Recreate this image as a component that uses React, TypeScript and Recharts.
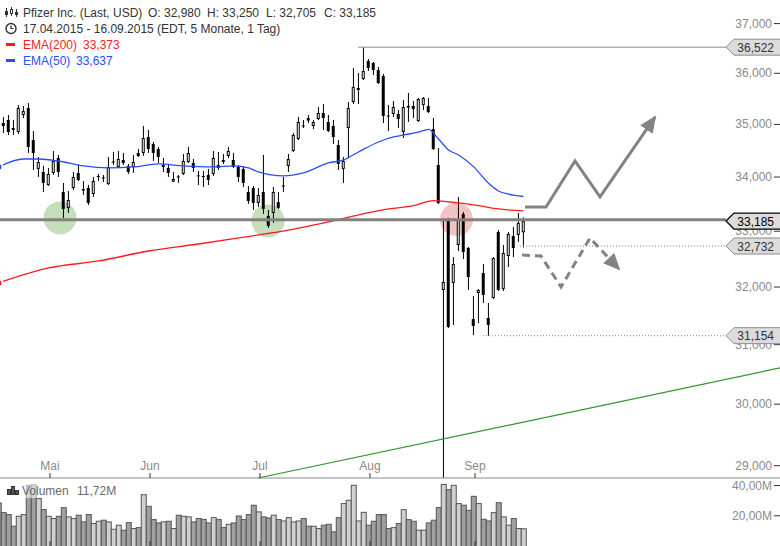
import React from 'react';
import { ComposedChart, Bar, Line, XAxis, YAxis, ReferenceLine, ReferenceDot } from 'recharts';

const FONT = '"Liberation Sans", Arial, sans-serif';

// Pfizer daily candles, index 0 = 17.04.2015, last = 16.09.2015 (USD)
const opens = [
  35.008, 35.027, 35.085, 34.931, 34.855, 35.182, 35.318, 34.701, 34.152, 34.095,
  33.851, 34.077, 34.359, 33.721, 33.426, 33.795, 34.077, 33.777, 33.795, 33.684,
  34.001, 33.992, 33.870, 34.274, 34.189, 34.321, 34.208, 34.189, 34.454, 34.454,
  34.759, 34.625, 34.530, 34.189, 34.171, 33.916, 34.011, 34.058, 34.283, 34.265,
  34.030, 34.020, 34.039, 34.058, 34.227, 34.321, 34.397, 34.321, 34.189, 34.152,
  33.721, 33.795, 33.518, 33.721, 33.279, 33.334, 33.536, 33.823, 34.208, 34.492,
  34.720, 34.979, 35.124, 34.970, 35.105, 35.221, 35.047, 34.970, 34.606, 34.152,
  34.931, 35.435, 35.670, 35.887, 36.245, 36.205, 36.065, 35.946, 35.172, 35.202,
  35.202, 34.855, 35.357, 35.357, 35.066, 35.376, 35.357, 34.912, 34.227, 31.948,
  33.205, 32.072, 32.750, 33.315, 32.696, 31.441, 31.895, 32.249, 31.459, 31.807,
  32.986, 31.966, 32.552, 32.914, 32.932, 32.980,
];
const highs = [
  35.124, 35.143, 35.182, 35.085, 35.376, 35.357, 35.415, 34.874, 34.378, 34.208,
  34.171, 34.492, 34.416, 33.889, 33.740, 34.095, 34.227, 33.926, 33.851, 34.001,
  34.058, 34.039, 34.378, 34.473, 34.492, 34.454, 34.246, 34.416, 34.530, 34.970,
  34.893, 34.663, 34.568, 34.359, 34.227, 34.095, 34.039, 34.435, 34.568, 34.340,
  34.114, 34.114, 34.152, 34.492, 34.473, 34.435, 34.568, 34.454, 34.227, 34.208,
  33.832, 33.832, 33.795, 34.416, 33.389, 33.814, 33.721, 34.001, 34.435, 34.835,
  35.143, 35.085, 35.182, 35.085, 35.337, 35.396, 35.182, 35.085, 34.701, 34.378,
  35.435, 36.105, 36.006, 36.522, 36.285, 36.225, 36.125, 35.986, 35.376, 35.454,
  35.279, 35.474, 35.611, 35.454, 35.513, 35.533, 35.513, 35.124, 34.549, 33.205,
  33.242, 32.534, 33.629, 33.352, 32.714, 31.842, 31.966, 32.409, 31.720, 32.534,
  33.022, 32.750, 32.986, 33.077, 33.334, 33.250,
];
const lows = [
  34.759, 34.835, 34.797, 34.797, 34.816, 35.124, 34.454, 34.133, 34.001, 33.721,
  33.832, 34.039, 34.001, 33.242, 33.334, 33.758, 33.926, 33.666, 33.481, 33.629,
  33.926, 33.907, 33.851, 34.227, 34.171, 34.227, 34.058, 34.077, 34.378, 34.397,
  34.454, 34.302, 34.265, 34.095, 34.001, 33.907, 33.889, 34.039, 34.265, 34.095,
  33.851, 33.814, 33.851, 34.020, 34.133, 34.246, 34.359, 34.171, 33.907, 33.814,
  33.499, 33.389, 33.444, 33.315, 33.059, 33.151, 33.407, 33.721, 34.095, 34.473,
  34.701, 34.931, 35.027, 34.912, 35.085, 34.893, 34.855, 34.625, 34.133, 33.889,
  34.378, 35.396, 35.396, 35.867, 36.045, 35.966, 35.789, 35.027, 34.874, 35.143,
  34.931, 34.739, 35.047, 35.124, 35.047, 35.279, 35.221, 34.511, 33.499, 27.510,
  31.286, 31.338, 32.642, 32.499, 31.948, 31.165, 31.372, 31.720, 31.154, 31.790,
  31.930, 31.930, 32.355, 32.534, 32.805, 32.705,
];
const closes = [
  34.816, 34.970, 34.855, 34.893, 35.318, 35.260, 34.568, 34.454, 34.283, 33.889,
  34.058, 34.302, 34.095, 33.407, 33.573, 34.001, 33.945, 33.749, 33.518, 33.926,
  34.020, 33.973, 34.189, 34.293, 34.340, 34.265, 34.095, 34.283, 34.397, 34.739,
  34.530, 34.454, 34.378, 34.227, 34.077, 33.964, 33.992, 34.302, 34.454, 34.171,
  34.011, 34.000, 33.945, 34.359, 34.171, 34.283, 34.492, 34.189, 34.001, 33.889,
  33.555, 33.518, 33.666, 33.407, 33.096, 33.721, 33.426, 33.842, 34.340, 34.797,
  35.047, 34.960, 35.075, 35.047, 35.221, 35.124, 34.874, 34.759, 34.246, 34.302,
  35.318, 35.730, 35.710, 36.045, 36.105, 36.065, 35.808, 35.163, 35.153, 35.337,
  35.105, 35.337, 35.328, 35.298, 35.494, 35.513, 35.240, 34.530, 33.518, 32.089,
  31.304, 32.409, 33.223, 32.624, 32.178, 31.321, 31.948, 31.860, 31.338, 32.516,
  31.948, 32.606, 32.950, 32.696, 33.151, 33.185,
];
// volume in millions
const volumes = [
  28.8, 22.4, 21.1, 13.4, 20.0, 21.1, 40.5, 40.9, 31.7, 24.4,
  20.0, 18.5, 20.0, 25.7, 19.6, 18.5, 20.7, 16.3, 21.1, 15.2,
  16.7, 17.4, 16.3, 11.4, 14.1, 10.8, 15.8, 11.9, 12.5, 34.3,
  26.6, 17.8, 15.6, 16.3, 16.7, 11.9, 20.7, 20.0, 19.6, 16.3,
  18.5, 18.0, 15.6, 19.1, 17.8, 12.5, 14.7, 15.6, 20.2, 17.8,
  21.1, 27.3, 22.9, 19.6, 18.9, 20.7, 17.8, 16.9, 19.1, 16.3,
  16.9, 18.5, 13.4, 13.4, 11.9, 14.1, 14.7, 9.7, 19.1, 28.4,
  30.6, 40.5, 16.9, 22.6, 14.1, 16.7, 21.1, 21.1, 11.9, 12.5,
  15.2, 24.4, 17.8, 16.7, 10.8, 10.8, 15.6, 17.4, 25.7, 41.1,
  37.6, 40.5, 28.4, 27.3, 24.0, 33.2, 28.4, 18.0, 16.9, 22.4,
  29.0, 19.6, 14.1, 18.5, 11.9, 11.72,
];

// moving averages at these candle indices
const ema50Idx = [0, 5, 8, 12, 17, 22, 27, 32, 37, 43, 47, 50, 52, 57, 61, 66, 69, 72, 76, 79, 81, 84, 86, 88, 90, 92, 95, 98, 100, 102, 105];
const ema50Vals = [34.189, 34.34, 34.34, 34.302, 34.208, 34.171, 34.189, 34.246, 34.208, 34.189, 34.208, 34.171, 34.095, 34.02, 34.077, 34.265, 34.321, 34.473, 34.663, 34.759, 34.797, 34.85, 34.905, 34.72, 34.511, 34.416, 34.196, 33.883, 33.74, 33.68, 33.637];
const ema200Idx = [0, 10, 20, 30, 40, 52, 56, 66, 72, 78, 83, 87, 92, 96, 100, 105];
const ema200Vals = [32.072, 32.338, 32.463, 32.642, 32.768, 32.932, 32.986, 33.169, 33.297, 33.407, 33.469, 33.561, 33.518, 33.469, 33.407, 33.373];

const priceTicks = [29, 30, 31, 32, 33, 34, 35, 36, 37];
const volumeTicks = [20, 40];
const monthStarts = [10, 30, 52, 74, 95];
const monthLabels = ['Mai', 'Jun', 'Jul', 'Aug', 'Sep'];

// drawn annotations (index, price)
const supportLevel = 33.21;
const highLine = { from: 71.9, value: 36.522 };
const dottedLevels = [{ from: 104.3, value: 32.732 }, { from: 96.9, value: 31.154 }];
const tagAt = 145.5;
const priceTags = [36.522, 33.185, 32.732, 31.154];
const greenMarks = [{ i: 12.3, p: 33.242 }, { i: 53.9, p: 33.187 }];
const redMarks = [{ i: 91.6, p: 33.214 }];
const trendLine = [{ i: 51.9, p: 28.804 }, { i: 156.3, p: 30.605 }];
const upPath = [{ i: 105.3, p: 33.444 }, { i: 109.5, p: 33.444 }, { i: 115.3, p: 34.302 }, { i: 120.3, p: 33.629 }, { i: 131.3, p: 35.143 }];
const downPath = [{ i: 104.7, p: 32.57 }, { i: 108.5, p: 32.552 }, { i: 112.5, p: 32.001 }, { i: 118.3, p: 32.877 }, { i: 124.1, p: 32.32 }];

const X_DOMAIN: [number, number] = [0.3, 156.3];
const Y_DOMAIN: [number, number] = [28.804, 37.484];
const monthTicks = monthStarts.map((k) => k + 0.3);

const rows = opens.map((o, i) => {
  const c = closes[i];
  const a = ema50Idx.indexOf(i);
  const b = ema200Idx.indexOf(i);
  return {
    i,
    o,
    h: highs[i],
    l: lows[i],
    c,
    wick: [lows[i], highs[i]],
    body: [Math.min(o, c), Math.max(o, c)],
    vol: volumes[i],
    ema50: a >= 0 ? ema50Vals[a] : null,
    ema200: b >= 0 ? ema200Vals[b] : null,
  };
});
const last = rows[rows.length - 1];

const fmt3 = (v: number) => v.toFixed(3).replace('.', ',');
const fmt2 = (v: number) => v.toFixed(2).replace('.', ',');

const WickShape = (props: any) => {
  const { x, y, width, height } = props;
  if (![x, y, width, height].every(Number.isFinite)) return <g />;
  const cx = x + width / 2;
  return <line x1={cx} x2={cx} y1={y} y2={y + height} stroke="#000" strokeWidth={1} />;
};

const BodyShape = (props: any) => {
  const { x, y, width, height, payload } = props;
  if (![x, y, width, height].every(Number.isFinite)) return <g />;
  const cx = x + width / 2;
  const up = payload.c >= payload.o;
  if (!up || height < 2.5) {
    return <rect x={cx - 1.5} y={y} width={3} height={Math.max(height, 1)} fill="#000" />;
  }
  return <rect x={cx - 1} y={y + 0.5} width={2} height={height - 1} fill="#fff" stroke="#000" strokeWidth={1} />;
};

const VolShape = (props: any) => {
  const { x, y, width, height, payload } = props;
  if (![x, y, width, height].every(Number.isFinite)) return <g />;
  const cx = x + width / 2;
  const up = payload.c >= payload.o;
  return (
    <rect x={cx - 2} y={y + 0.5} width={5} height={height} fill={up ? '#d0d0d0' : '#a0a0a0'} stroke="#555" strokeWidth={1} />
  );
};

const PriceTick = (props: any) => {
  const { y, payload } = props;
  return (
    <g>
      <text x={772} y={y + 4} textAnchor="end" fontSize={12} fill="#8a8a8a" fontFamily={FONT}>
        {fmt3(payload.value)}
      </text>
      <line x1={774} x2={780} y1={y} y2={y} stroke="#333" />
    </g>
  );
};

const MonthTick = (props: any) => {
  const { x, payload } = props;
  const label = monthLabels[monthTicks.indexOf(payload.value)];
  return (
    <g>
      <text x={x} y={470} textAnchor="middle" fontSize={12} fill="#8a8a8a" fontFamily={FONT}>
        {label}
      </text>
      <line x1={x} x2={x} y1={473} y2={478} stroke="#333" />
    </g>
  );
};

const VolTick = (props: any) => {
  const { y, payload } = props;
  return (
    <g>
      <text x={772} y={y + 4} textAnchor="end" fontSize={12} fill="#8a8a8a" fontFamily={FONT}>
        {fmt2(payload.value)}M
      </text>
      <line x1={774} x2={780} y1={y} y2={y} stroke="#333" />
    </g>
  );
};

const VolMonthTick = (props: any) => {
  const { x } = props;
  return <line x1={x} x2={x} y1={63} y2={68} stroke="#333" />;
};

const PriceTag = (props: any) => {
  const { cx, cy, value, current } = props;
  if (!Number.isFinite(cx) || !Number.isFinite(cy)) return <g />;
  const h = 8;
  const pts = `${cx},${cy} ${cx + 8},${cy - h} ${cx + 58},${cy - h} ${cx + 58},${cy + h} ${cx + 8},${cy + h}`;
  return (
    <g>
      <polygon points={pts} fill="#dcdcdc" stroke={current ? '#000' : '#8c8c8c'} strokeWidth={current ? 1.3 : 1} />
      <text x={cx + 48} y={cy + 4.5} textAnchor="end" fontSize={12} fill={current ? '#000' : '#333'} fontFamily={FONT}>
        {fmt3(value)}
      </text>
    </g>
  );
};

// arrow head drawn at the end of a reference segment (x2, y2 is the tip)
const ArrowHead = (props: any) => {
  const { x1, y1, x2, y2, fill } = props;
  if (![x1, y1, x2, y2].every(Number.isFinite)) return <g />;
  const dx = x2 - x1;
  const dy = y2 - y1;
  const len = Math.hypot(dx, dy) || 1;
  const ux = dx / len;
  const uy = dy / len;
  const bx = x2 - ux * 15;
  const by = y2 - uy * 15;
  const pts = `${x2 + ux * 2},${y2 + uy * 2} ${bx - uy * 7.5},${by + ux * 7.5} ${bx + uy * 7.5},${by - ux * 7.5}`;
  return <polygon points={pts} fill={fill} stroke="none" />;
};

const ARROW = '#878282';

function PriceChart() {
  const upA = upPath[upPath.length - 2];
  const upB = upPath[upPath.length - 1];
  const dnA = downPath[downPath.length - 2];
  const dnB = downPath[downPath.length - 1];
  return (
    <ComposedChart width={780} height={480} data={rows} margin={{ top: 0, right: 0, bottom: 2, left: 0 }}>
      <XAxis
        xAxisId="w"
        dataKey="i"
        type="number"
        domain={X_DOMAIN}
        allowDataOverflow
        ticks={monthTicks}
        interval={0}
        mirror
        tick={MonthTick}
        tickLine={false}
        axisLine={{ stroke: '#8a8a8a' }}
      />
      <XAxis xAxisId="b" dataKey="i" type="number" domain={X_DOMAIN} allowDataOverflow hide />
      <YAxis
        yAxisId="p"
        orientation="right"
        scale="log"
        domain={Y_DOMAIN}
        allowDataOverflow
        ticks={priceTicks}
        interval={0}
        mirror
        tick={PriceTick}
        tickLine={false}
        axisLine={false}
      />
      {greenMarks.map((m) => (
        <ReferenceDot key={`g${m.i}`} xAxisId="w" yAxisId="p" x={m.i} y={m.p} r={16.5} fill="rgba(110,175,87,0.4)" stroke="none" zIndex={250} />
      ))}
      {redMarks.map((m) => (
        <ReferenceDot key={`r${m.i}`} xAxisId="w" yAxisId="p" x={m.i} y={m.p} r={16.5} fill="rgba(222,105,105,0.4)" stroke="none" zIndex={250} />
      ))}
      <ReferenceLine
        xAxisId="w"
        yAxisId="p"
        segment={[{ x: trendLine[0].i, y: trendLine[0].p }, { x: trendLine[1].i, y: trendLine[1].p }]}
        stroke="#2e962e"
        strokeWidth={1.2}
        ifOverflow="visible"
      />
      <Line xAxisId="w" yAxisId="p" dataKey="ema200" stroke="#ff1a1a" strokeWidth={1.3} dot={false} connectNulls type="monotone" isAnimationActive={false} />
      <Line xAxisId="w" yAxisId="p" dataKey="ema50" stroke="#2a4dff" strokeWidth={1.3} dot={false} connectNulls type="monotone" isAnimationActive={false} />
      <Bar xAxisId="w" yAxisId="p" dataKey="wick" barSize={5} shape={WickShape} isAnimationActive={false} />
      <Bar xAxisId="b" yAxisId="p" dataKey="body" barSize={5} shape={BodyShape} isAnimationActive={false} />
      <ReferenceLine
        xAxisId="w"
        yAxisId="p"
        segment={[{ x: X_DOMAIN[0], y: supportLevel }, { x: tagAt, y: supportLevel }]}
        stroke="#858080"
        strokeWidth={3}
        ifOverflow="visible"
      />
      <ReferenceLine
        xAxisId="w"
        yAxisId="p"
        segment={[{ x: highLine.from, y: highLine.value }, { x: tagAt, y: highLine.value }]}
        stroke="#8a8a8a"
        strokeWidth={1}
        ifOverflow="visible"
      />
      {dottedLevels.map((d) => (
        <ReferenceLine
          key={`d${d.value}`}
          xAxisId="w"
          yAxisId="p"
          segment={[{ x: d.from, y: d.value }, { x: tagAt, y: d.value }]}
          stroke="#8a8a8a"
          strokeWidth={1}
          strokeDasharray="1 2"
          ifOverflow="visible"
        />
      ))}
      <Line
        xAxisId="w"
        yAxisId="p"
        data={upPath}
        dataKey="p"
        stroke={ARROW}
        strokeWidth={3}
        type="linear"
        dot={false}
        activeDot={false}
        isAnimationActive={false}
      />
      <Line
        xAxisId="w"
        yAxisId="p"
        data={downPath}
        dataKey="p"
        stroke={ARROW}
        strokeWidth={3}
        strokeDasharray="8 5"
        type="linear"
        dot={false}
        activeDot={false}
        isAnimationActive={false}
      />
      <ReferenceLine
        xAxisId="w"
        yAxisId="p"
        segment={[{ x: upA.i, y: upA.p }, { x: upB.i, y: upB.p }]}
        ifOverflow="visible"
        shape={(p: any) => <ArrowHead {...p} fill={ARROW} />}
      />
      <ReferenceLine
        xAxisId="w"
        yAxisId="p"
        segment={[{ x: dnA.i, y: dnA.p }, { x: dnB.i, y: dnB.p }]}
        ifOverflow="visible"
        shape={(p: any) => <ArrowHead {...p} fill={ARROW} />}
      />
      {priceTags.map((v) => (
        <ReferenceDot
          key={`t${v}`}
          xAxisId="w"
          yAxisId="p"
          x={tagAt}
          y={v}
          r={1}
          zIndex={2500}
          ifOverflow="visible"
          shape={(p: any) => <PriceTag {...p} value={v} current={v === last.c} />}
        />
      ))}
    </ComposedChart>
  );
}

function VolumeChart() {
  return (
    <ComposedChart width={780} height={68} data={rows} margin={{ top: 0, right: 0, bottom: 0, left: 0 }}>
      <XAxis
        dataKey="i"
        type="number"
        domain={X_DOMAIN}
        allowDataOverflow
        ticks={monthTicks}
        interval={0}
        mirror
        tick={VolMonthTick}
        tickLine={false}
        axisLine={false}
      />
      <YAxis
        orientation="right"
        domain={[0, 45]}
        allowDataOverflow
        ticks={volumeTicks}
        interval={0}
        mirror
        tick={VolTick}
        tickLine={false}
        axisLine={false}
      />
      <Bar dataKey="vol" barSize={5} shape={VolShape} isAnimationActive={false} />
    </ComposedChart>
  );
}

function Overlay() {
  const t = { fontSize: 12, fontFamily: FONT } as const;
  return (
    <svg width={780} height={546} style={{ position: 'absolute', left: 0, top: 0, pointerEvents: 'none' }}>
      {/* candle icon */}
      <g stroke="#333" strokeWidth={1}>
        <line x1={6.5} x2={6.5} y1={8} y2={17} />
        <line x1={11.5} x2={11.5} y1={7} y2={16} />
        <line x1={16.5} x2={16.5} y1={9} y2={17} />
      </g>
      <rect x={5} y={11} width={3} height={4} fill="#333" />
      <rect x={10.5} y={9.5} width={2} height={4} fill="#fff" stroke="#333" />
      <rect x={15} y={12} width={3} height={3} fill="#333" />
      <text x={23} y={17} fill="#333" {...t}>Pfizer Inc. (Last, USD)</text>
      <text x={148} y={17} fill="#333" {...t}>O: {fmt3(last.o)}</text>
      <text x={207} y={17} fill="#333" {...t}>H: {fmt3(last.h)}</text>
      <text x={266} y={17} fill="#333" {...t}>L: {fmt3(last.l)}</text>
      <text x={324} y={17} fill="#333" {...t}>C: {fmt3(last.c)}</text>
      {/* clock icon */}
      <circle cx={11} cy={28.5} r={5} fill="none" stroke="#333" strokeWidth={1.4} />
      <polyline points="11,25.5 11,28.5 13.5,28.5" fill="none" stroke="#333" strokeWidth={1.2} />
      <text x={23} y={33} fill="#333" {...t}>17.04.2015 - 16.09.2015 (EDT, 5 Monate, 1 Tag)</text>
      <rect x={6} y={43} width={9} height={3} fill="#ff1a1a" />
      <text x={23} y={49} fill="#ff1a1a" {...t}>EMA(200)</text>
      <text x={83} y={49} fill="#ff1a1a" {...t}>{fmt3(ema200Vals[ema200Vals.length - 1])}</text>
      <rect x={6} y={59} width={9} height={3} fill="#2a4dff" />
      <text x={23} y={65} fill="#2a4dff" {...t}>EMA(50)</text>
      <text x={76} y={65} fill="#2a4dff" {...t}>{fmt3(ema50Vals[ema50Vals.length - 1])}</text>
      {/* volume legend */}
      <rect x={3} y={482} width={118} height={16} fill="#fff" fillOpacity={0.55} />
      <rect x={7.5} y={489.5} width={3} height={5} fill="#555" stroke="#333" strokeWidth={1} />
      <rect x={11.5} y={486.5} width={3} height={8} fill="#555" stroke="#333" strokeWidth={1} />
      <rect x={15.5} y={490.5} width={3} height={4} fill="#555" stroke="#333" strokeWidth={1} />
      <text x={22} y={495} fill="#6a6a6a" {...t}>Volumen</text>
      <text x={77} y={495} fill="#6a6a6a" {...t}>{fmt2(last.vol)}M</text>
    </svg>
  );
}

export default function App() {
  return (
    <div style={{ position: 'absolute', left: 0, top: 0, width: 780, height: 546, overflow: 'hidden', background: '#fff', fontFamily: FONT }}>
      <div style={{ position: 'absolute', left: 0, top: 478 }}>
        <VolumeChart />
      </div>
      <div style={{ position: 'absolute', left: 0, top: 0 }}>
        <PriceChart />
      </div>
      <Overlay />
    </div>
  );
}
